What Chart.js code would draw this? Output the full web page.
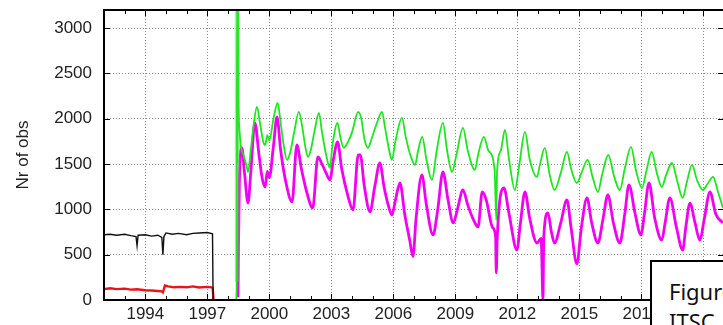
<!DOCTYPE html>
<html>
<head>
<meta charset="utf-8">
<script src="https://cdn.jsdelivr.net/npm/chart.js@4/dist/chart.umd.min.js"></script>
<style>
  html, body { margin: 0; padding: 0; background: #fff; }
  #wrap { position: relative; width: 723px; height: 325px; overflow: hidden; }
  #obsChart { position: absolute; left: 0; top: 0; }
  #caption {
    position: absolute; left: 650px; top: 260px; width: 90px; height: 80px;
    background: #fff; border: 2px solid #000; box-sizing: border-box;
    font-family: "Noto Sans", sans-serif; font-size: 22px; line-height: 30px;
    color: #111; padding: 14px 0 0 17px; white-space: nowrap;
  }
</style>
</head>
<body>
<div id="wrap">
  <canvas id="obsChart" width="730" height="325"></canvas>
  <div id="caption">Figure<br>ITSC</div>
</div>
<script>
// year ticks along x, only every third year is labelled
const yearMin = 1992;
const yearMax = 2022;
const labelYears = [1994, 1997, 2000, 2003, 2006, 2009, 2012, 2015, 2018, 2021];
const obsTicks = [0, 500, 1000, 1500, 2000, 2500, 3000];
const obsMax = 3200;

// black: older instrument, total obs
const blackYears = [1992.0, 1992.3, 1992.6, 1993.0, 1993.3, 1993.55, 1993.6, 1993.65, 1994.0, 1994.3, 1994.6, 1994.8, 1994.85, 1994.9, 1995.0, 1995.3, 1995.6, 1996.0, 1996.3, 1996.6, 1997.0, 1997.25, 1997.28];
const blackObs = [720, 725, 715, 725, 710, 700, 600, 715, 720, 705, 715, 690, 500, 700, 740, 725, 735, 720, 735, 740, 745, 730, 0];

// red: older instrument, subset
const redYears = [1992.0, 1992.3, 1992.6, 1993.0, 1993.3, 1993.6, 1994.0, 1994.3, 1994.6, 1994.8, 1994.85, 1994.95, 1995.1, 1995.4, 1995.7, 1996.0, 1996.3, 1996.6, 1997.0, 1997.2, 1997.26, 1997.3];
const redObs = [120, 130, 120, 125, 115, 118, 108, 105, 100, 95, 85, 160, 150, 140, 145, 140, 150, 138, 145, 140, 130, 0];

// green: newer instrument, total obs
const greenYears = [1998.40, 1998.42, 1998.44, 1998.46, 1998.48, 1998.50, 1998.55, 1998.62, 1998.75, 1998.9, 1998.97,
  1999.1, 1999.25, 1999.4, 1999.55, 1999.7, 1999.8, 1999.9, 2000.0, 2000.2, 2000.4, 2000.55, 2000.7, 2000.85,
  2001.0, 2001.2, 2001.43, 2001.6, 2001.75, 2001.87, 2002.0, 2002.2, 2002.4, 2002.55, 2002.75, 2002.93,
  2003.05, 2003.3, 2003.45, 2003.6, 2003.75, 2004.0, 2004.3, 2004.45, 2004.6, 2004.77, 2004.95, 2005.2, 2005.45,
  2005.6, 2005.8, 2005.93, 2006.1, 2006.42, 2006.6, 2006.85, 2007.05, 2007.2, 2007.4, 2007.6, 2007.87,
  2008.1, 2008.4, 2008.6, 2008.84, 2009.05, 2009.37, 2009.6, 2009.95, 2010.1, 2010.38, 2010.6, 2010.9, 2010.98, 2011.02,
  2011.2, 2011.4, 2011.6, 2011.88, 2012.1, 2012.37, 2012.6, 2012.95, 2013.1, 2013.33, 2013.55, 2013.8,
  2014.1, 2014.4, 2014.6, 2014.88, 2015.1, 2015.4, 2015.65, 2015.9, 2016.1, 2016.4, 2016.7, 2016.96,
  2017.2, 2017.5, 2017.75, 2018.03, 2018.25, 2018.5, 2018.75, 2018.99, 2019.2, 2019.48, 2019.75, 2020.0,
  2020.2, 2020.45, 2020.7, 2020.98, 2021.2, 2021.47, 2021.7, 2021.95];
const greenObs = [0, 250, 3500, 1500, 3500, 2300, 1900, 1700, 1600, 1480, 1413,
  1650, 1950, 2131, 1950, 1750, 1711, 1820, 1760, 2000, 2175, 1950, 1700, 1546,
  1620, 1850, 2075, 1900, 1680, 1580, 1650, 1880, 2065, 1850, 1600, 1457,
  1700, 1954, 1780, 1678, 1720, 1850, 2075, 2000, 1780, 1678, 1780, 1950, 2075,
  1900, 1650, 1546, 1750, 2009, 1800, 1580, 1490, 1650, 1800, 1550, 1325,
  1650, 1954, 1650, 1413, 1600, 1899, 1650, 1435, 1600, 1800, 1650, 1435, 883, 1420,
  1650, 1877, 1550, 1214, 1500, 1855, 1550, 1358, 1500, 1678, 1400, 1214,
  1400, 1634, 1450, 1291, 1400, 1546, 1350, 1192, 1380, 1600, 1350, 1214,
  1450, 1690, 1420, 1236, 1430, 1634, 1400, 1247, 1380, 1512, 1300, 1126,
  1300, 1490, 1320, 1214, 1280, 1358, 1200, 1016];

// magenta: newer instrument, subset
const magentaYears = [1998.48, 1998.55, 1998.67, 1998.8, 1998.97, 1999.1, 1999.3, 1999.5, 1999.65, 1999.8, 1999.9,
  2000.0, 2000.2, 2000.37, 2000.55, 2000.8, 2001.1, 2001.33, 2001.55, 2001.8, 2002.1, 2002.35, 2002.55, 2002.75, 2002.93,
  2003.1, 2003.3, 2003.5, 2003.8, 2004.05, 2004.3, 2004.4, 2004.6, 2004.87, 2005.1, 2005.35, 2005.55, 2005.75, 2005.93,
  2006.1, 2006.32, 2006.55, 2006.8, 2006.95, 2007.1, 2007.38, 2007.6, 2007.92, 2008.15, 2008.4, 2008.65, 2008.9,
  2009.1, 2009.37, 2009.6, 2009.85, 2010.1, 2010.3, 2010.5, 2010.8, 2010.95, 2010.98, 2011.03, 2011.35, 2011.6, 2011.98,
  2012.15, 2012.37, 2012.6, 2012.95, 2013.15, 2013.24, 2013.28, 2013.48, 2013.65, 2013.8, 2014.1, 2014.4, 2014.6, 2014.88,
  2015.1, 2015.37, 2015.6, 2015.9, 2016.15, 2016.38, 2016.65, 2016.96, 2017.2, 2017.4, 2017.7, 2017.98,
  2018.15, 2018.37, 2018.65, 2018.99, 2019.15, 2019.38, 2019.7, 2020.0, 2020.15, 2020.35, 2020.6, 2020.83,
  2021.05, 2021.32, 2021.6, 2021.95];
const magentaObs = [30, 1300, 1678, 1400, 1070, 1400, 1954, 1600, 1350, 1247, 1420,
  1350, 1700, 2020, 1650, 1300, 1082, 1711, 1450, 1200, 1016, 1580, 1500, 1400, 1325,
  1550, 1744, 1450, 1150, 994, 1600, 1600, 1250, 972, 1250, 1512, 1250, 1050, 938,
  1100, 1291, 950, 650, 480, 900, 1380, 1050, 718, 1000, 1413, 1100, 850,
  1000, 1214, 1050, 900, 806, 1192, 1100, 800, 696, 300, 700, 1236, 950, 552,
  850, 1192, 900, 629, 680, 20, 700, 960, 750, 629, 850, 1104, 800, 400,
  800, 1126, 850, 629, 900, 1159, 850, 629, 950, 1270, 950, 718,
  950, 1291, 900, 662, 850, 1126, 800, 552, 800, 1070, 850, 662,
  900, 1192, 950, 850];

// short burst at start-up of the newer instrument
const burstYears = [1998.45, 1998.45];
const burstObs = [200, 3200];

const toPoints = (xs, ys) => xs.map((x, i) => ({ x: x, y: ys[i] }));

const tickFont = { family: "'Liberation Sans', Arial, sans-serif", size: 17 };
const textColor = '#222';
const gridColor = '#8c8c8c';

// frame round the plot, with short inward tick marks
const framePlugin = {
  id: 'framePlugin',
  afterDatasetsDraw(chart) {
    const { ctx, chartArea: a, scales } = chart;
    const x = scales.x, y = scales.y;
    ctx.save();
    ctx.strokeStyle = '#000';
    ctx.lineWidth = 1;
    ctx.beginPath();
    for (let yr = yearMin + 1; yr < yearMax; yr++) {
      const px = Math.round(x.getPixelForValue(yr)) + 0.5;
      const len = labelYears.includes(yr) ? 6 : 4;
      ctx.moveTo(px, a.bottom); ctx.lineTo(px, a.bottom - len);
      ctx.moveTo(px, a.top); ctx.lineTo(px, a.top + len);
    }
    obsTicks.forEach(v => {
      const py = Math.round(y.getPixelForValue(v)) + 0.5;
      ctx.moveTo(a.left, py); ctx.lineTo(a.left + 6, py);
      ctx.moveTo(a.right, py); ctx.lineTo(a.right - 6, py);
    });
    ctx.stroke();
    ctx.lineWidth = 2;
    ctx.strokeRect(a.left, a.top, a.right - a.left, a.bottom - a.top);
    ctx.restore();
  }
};

new Chart(document.getElementById('obsChart').getContext('2d'), {
  type: 'line',
  data: {
    datasets: [
      { label: 'burst', data: toPoints(burstYears, burstObs), borderColor: 'rgba(60, 225, 60, 0.45)', borderWidth: 5 },
      { label: 'green', data: toPoints(greenYears, greenObs), borderColor: '#1ee61e', borderWidth: 1.8, cubicInterpolationMode: 'monotone' },
      { label: 'magenta', data: toPoints(magentaYears, magentaObs), borderColor: '#f200f2', borderWidth: 2.8, cubicInterpolationMode: 'monotone' },
      { label: 'black', data: toPoints(blackYears, blackObs), borderColor: '#111', borderWidth: 1.4 },
      { label: 'red', data: toPoints(redYears, redObs), borderColor: '#e8141a', borderWidth: 2.4 }
    ]
  },
  options: {
    responsive: false,
    animation: false,
    devicePixelRatio: 1,
    layout: { padding: { top: 10, right: 6, left: 0, bottom: 0 } },
    elements: { point: { radius: 0 }, line: { tension: 0 } },
    plugins: { legend: { display: false }, tooltip: { enabled: false } },
    scales: {
      x: {
        type: 'linear',
        min: yearMin,
        max: yearMax,
        afterFit: s => { s.height = 25; s.paddingLeft = 0; s.paddingRight = 0; },
        ticks: {
          stepSize: 1,
          autoSkip: false,
          maxRotation: 0,
          padding: 4,
          font: tickFont,
          color: textColor,
          callback: v => labelYears.includes(v) ? String(v) : ''
        },
        grid: {
          drawTicks: false,
          lineWidth: 1,
          color: c => labelYears.includes(c.tick && c.tick.value) ? gridColor : 'rgba(0,0,0,0)'
        },
        border: { display: false, dash: [1, 2] }
      },
      y: {
        type: 'linear',
        min: 0,
        max: obsMax,
        // keep the plot box at a fixed place: no extra room for the end labels
        afterFit: s => { s.width = 104; s.paddingTop = 0; s.paddingBottom = 0; },
        // fixed 500-step ticks; the top of the range (3200) carries no tick
        afterBuildTicks: s => { s.ticks = obsTicks.map(v => ({ value: v })); },
        ticks: {
          autoSkip: false,
          padding: 12,
          font: tickFont,
          color: textColor,
          callback: v => String(v)
        },
        grid: { drawTicks: false, lineWidth: 1, color: gridColor },
        border: { display: false, dash: [1, 2] },
        title: {
          display: true,
          text: 'Nr of obs',
          font: tickFont,
          color: textColor,
          padding: { top: 13, bottom: 0 }
        }
      }
    }
  },
  plugins: [framePlugin]
});
</script>
</body>
</html>
